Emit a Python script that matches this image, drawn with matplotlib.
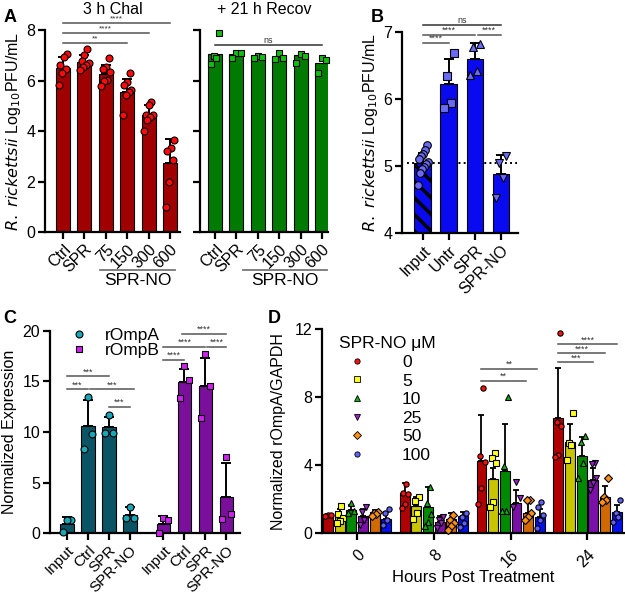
import numpy as np
import matplotlib.pyplot as plt
from matplotlib.lines import Line2D
import matplotlib.transforms as mtransforms

plt.rcParams['font.family'] = ['Liberation Sans', 'DejaVu Sans']
plt.rcParams['hatch.linewidth'] = 2.5
plt.rcParams['axes.linewidth'] = 1.6

# ---------------- data ----------------
# Panel A (3 h challenge / +21 h recovery)
a_labels = ['Ctrl', 'SPR', '75', '150', '300', '600']
chal_mean = [6.5, 6.75, 6.25, 5.55, 4.65, 2.72]
chal_sd = [0.45, 0.28, 0.38, 0.52, 0.38, 0.95]
chal_pts = [[7.07, 6.92, 6.62, 6.45, 6.3, 5.82],
            [7.24, 7.0, 6.78, 6.68, 6.62, 6.55, 6.42],
            [6.88, 6.55, 6.44, 6.35, 6.02, 6.0, 5.78],
            [6.28, 5.93, 5.82, 5.62, 5.55, 5.42, 4.63],
            [5.16, 5.03, 4.63, 4.62, 4.56, 4.43, 4.01],
            [3.66, 3.31, 3.2, 2.87, 1.98, 0.99]]
recov_mean = [7.05, 7.05, 6.97, 6.95, 7.02, 6.7]
recov_pts = [[7.87, 6.97, 6.9, 6.67],
             [7.1, 7.08, 6.9],
             [6.97, 6.93, 6.9],
             [7.08, 6.9, 6.85],
             [7.04, 6.97, 6.7],
             [6.9, 6.82, 6.3]]

# Panel B
b_labels = ['Input', 'Untr', 'SPR', 'SPR-NO']
b_mean = [5.05, 6.22, 6.59, 4.88]
b_sd = [0.15, 0.37, 0.24, 0.29]
b_pts = [[5.32, 5.24, 5.18, 5.15, 5.1, 5.06, 5.03, 4.98, 4.95, 4.9, 4.72],
         [6.69, 6.34, 5.94, 5.87],
         [6.82, 6.78, 6.41, 6.36],
         [5.15, 5.05, 4.82, 4.52]]
b_input_level = 5.05

# Panel C
c_labels = ['Input', 'Ctrl', 'SPR', 'SPR-NO']
ompa_mean = [0.95, 10.55, 10.45, 1.82]
ompa_sd = [0.7, 2.6, 1.05, 0.8]
ompa_pts = [[1.3, 1.3, 0.15], [13.5, 9.77, 8.3], [11.7, 9.87, 9.87], [2.57, 1.48, 1.48]]
ompb_mean = [0.93, 14.97, 14.54, 3.55]
ompb_sd = [0.75, 1.3, 2.8, 3.4]
ompb_pts = [[1.48, 1.32, 0.0], [16.5, 15.1, 13.4], [17.7, 14.5, 11.35], [7.5, 1.87, 1.38]]

# Panel D
d_hours = ['0', '8', '16', '24']
d_doses = ['0', '5', '10', '25', '50', '100']
d_mean = [[1.05, 0.98, 1.35, 1.0, 1.25, 0.84],
          [2.35, 1.6, 1.53, 0.69, 0.82, 1.02],
          [4.25, 3.18, 3.67, 1.8, 1.18, 0.98],
          [6.8, 5.39, 4.57, 3.14, 2.16, 1.25]]
d_sd = [[0.08, 0.45, 0.3, 0.45, 0.12, 0.4],
        [0.6, 0.56, 1.17, 0.33, 0.36, 0.25],
        [2.71, 0.64, 2.76, 0.75, 0.78, 0.43],
        [2.95, 1.04, 1.12, 0.68, 0.62, 0.42]]
d_pts = [[[1.08, 1.02, 1.05],
          [1.61, 1.14, 0.88, 0.73, 0.59],
          [1.8, 1.33, 1.22],
          [1.57, 1.27, 0.78, 0.49],
          [1.27, 1.22, 1.14, 1.02],
          [1.41, 1.22, 0.78, 0.49]],
         [[2.9, 2.35, 2.31, 1.71, 1.47],
          [2.12, 1.9, 1.22, 0.84],
          [2.75, 1.76, 1.14, 0.69, 0.43],
          [0.98, 0.78, 0.59, 0.29],
          [1.08, 0.78, 0.63, 0.43, 0.2],
          [1.22, 0.98, 0.63, 0.35]],
         [[8.57, 4.57, 4.18, 2.65, 1.73],
          [4.75, 4.45, 4.12, 1.86, 1.57],
          [8.04, 3.98, 1.33, 1.33],
          [3.04, 2.06, 1.57],
          [1.96, 1.96, 1.18, 0.98, 0.78],
          [1.82, 1.57, 1.08, 0.78, 0.29]],
         [[11.76, 6.57, 6.31, 4.61, 4.51],
          [7.1, 5.33, 5.2, 4.31],
          [5.75, 5.39, 4.12, 3.27],
          [4.12, 4.06, 3.24, 2.94, 2.55],
          [3.24, 2.16, 1.96, 1.86],
          [1.96, 1.18, 0.98, 0.69]]]
d_bar_colors = ['#b00000', '#c8c400', '#008a00', '#7a10a8', '#d06a00', '#0010ee']
d_pt_colors = ['#ff1010', '#ffff20', '#10b010', '#a020d0', '#ff9010', '#6060ff']
d_markers = ['o', 's', '^', 'v', 'D', 'o']

TICK_FS = 11.5
LAB_FS = 11.5


def spread(vals, width=0.4):
    n = len(vals)
    if n == 1:
        return np.zeros(1)
    order = np.argsort(vals)
    offs = np.zeros(n)
    base = np.linspace(-width / 2, width / 2, n)
    # alternate positions so points of similar height don't stack
    alt = np.concatenate([base[::2], base[1::2]])
    offs[order] = alt
    return offs


def bars(ax, xs, means, sds, pts, barc, ptc, marker='o', width=0.65, ms=5,
         spread_w=0.4, hatch=None, capsize=3.5, lw=1.4):
    for i, (x, m) in enumerate(zip(xs, means)):
        ax.bar(x, m, width=width, color=barc if isinstance(barc, str) else barc[i],
               edgecolor='black', linewidth=0.8, zorder=2,
               hatch=hatch[i] if hatch else None)
        if sds is not None:
            ax.errorbar(x, m, yerr=[[0], [sds[i]]], color='black', capsize=capsize,
                        capthick=lw, elinewidth=lw, zorder=3)
        p = np.array(pts[i])
        mk = marker if isinstance(marker, str) else marker[i]
        c = ptc if isinstance(ptc, str) else ptc[i]
        ax.plot(x + spread(p, spread_w), p, mk, ms=ms, mfc=c, mec='black', mew=0.8,
                zorder=4, clip_on=False, linestyle='none')


def sig(ax, x1, x2, y, txt, color='#555555', fs=6.5, lw=1.1):
    ax.plot([x1, x2], [y, y], color=color, lw=lw, clip_on=False, zorder=5)
    ax.text((x1 + x2) / 2, y, txt, ha='center', va='bottom', fontsize=fs,
            color='#333333', clip_on=False)


def style(ax):
    for s in ['top', 'right']:
        ax.spines[s].set_visible(False)
    ax.tick_params(axis='both', width=1.6, length=5, labelsize=TICK_FS, pad=2)
    ax.set_facecolor('none')


fig = plt.figure(figsize=(6.25, 5.94), dpi=100)

# ---------------- Panel A left ----------------
ax1 = fig.add_axes([0.072, 0.6094, 0.216, 0.340])
xa = np.arange(len(a_labels))
bars(ax1, xa, chal_mean, chal_sd, chal_pts, '#a00000', '#ff0a0a')
ax1.set_xlim(-0.84, 5.47)
ax1.set_ylim(0, 8)
ax1.set_yticks([0, 2, 4, 6, 8])
ax1.set_xticks(xa)
ax1.set_xticklabels(a_labels, rotation=45, ha='right', rotation_mode='anchor')
style(ax1)
ax1.set_ylabel(r'$\it{R.\ rickettsii}$ Log$_{10}$PFU/mL', fontsize=LAB_FS, labelpad=2)
ax1.set_title('3 h Chal', fontsize=11.5, pad=11.5)
sig(ax1, 0, 3, 7.5, '**', fs=6)
sig(ax1, 0, 4, 7.9, '****', fs=6)
sig(ax1, 0, 5, 8.29, '****', fs=6)
tr = mtransforms.blended_transform_factory(ax1.transData, ax1.transAxes)
ax1.plot([1.75, 5.25], [-0.19, -0.19], color='#777777', lw=1.3, transform=tr, clip_on=False)
ax1.text(3.5, -0.205, 'SPR-NO', transform=tr, ha='center', va='top', fontsize=12.5)

# ---------------- Panel A right ----------------
ax2 = fig.add_axes([0.32, 0.6094, 0.2048, 0.340])
bars(ax2, xa, recov_mean, None, recov_pts, '#007a00', '#10c010', marker='s', ms=5)
ax2.set_xlim(-0.7, 5.28)
ax2.set_ylim(0, 8)
ax2.set_yticks([0, 2, 4, 6, 8])
ax2.set_yticklabels([])
ax2.set_xticks(xa)
ax2.set_xticklabels(a_labels, rotation=45, ha='right', rotation_mode='anchor')
style(ax2)
ax2.set_title('+ 21 h Recov', fontsize=11.5, pad=11.5)
sig(ax2, 0, 5, 7.42, 'ns', color='#333333')
tr2 = mtransforms.blended_transform_factory(ax2.transData, ax2.transAxes)
ax2.plot([1.3, 5.25], [-0.19, -0.19], color='#777777', lw=1.3, transform=tr2, clip_on=False)
ax2.text(3.28, -0.205, 'SPR-NO', transform=tr2, ha='center', va='top', fontsize=12.5)

# ---------------- Panel B ----------------
ax3 = fig.add_axes([0.643, 0.6072, 0.1856, 0.3394])
xb = np.arange(len(b_labels))
bars(ax3, xb, b_mean, b_sd, b_pts, '#0a0af0', '#6a6af8',
     marker=['o', 's', '^', 'v'], ms=5.5, hatch=['\\\\', None, None, None])
ax3.plot([-0.6, 3.6], [b_input_level, b_input_level], ':', color='black', lw=1.4, zorder=1)
ax3.set_xlim(-0.81, 3.65)
ax3.set_ylim(4, 7)
ax3.set_yticks([4, 5, 6, 7])
ax3.set_xticks(xb)
ax3.set_xticklabels(b_labels, rotation=45, ha='right', rotation_mode='anchor')
style(ax3)
ax3.set_ylabel(r'$\it{R.\ rickettsii}$ Log$_{10}$PFU/mL', fontsize=LAB_FS, labelpad=2)
sig(ax3, 0, 1, 6.83, '****')
sig(ax3, 0, 2, 6.95, '****')
sig(ax3, 2.1, 3, 6.95, '****')
sig(ax3, 0, 3, 7.1, 'ns', color='#333333')

# ---------------- Panel C ----------------
ax4 = fig.add_axes([0.08, 0.1022, 0.304, 0.341])
xc1 = np.arange(4)
xc2 = np.arange(4) + 4.6
bars(ax4, xc1, ompa_mean, ompa_sd, ompa_pts, '#0b5466', '#1aa6b6', marker='o', ms=5)
bars(ax4, xc2, ompb_mean, ompb_sd, ompb_pts, '#7a0f9c', '#d020f0', marker='s', ms=5)
ax4.set_xlim(-0.8, 8.25)
ax4.set_ylim(0, 20)
ax4.set_yticks([0, 5, 10, 15, 20])
ax4.set_xticks(np.concatenate([xc1, xc2]))
ax4.set_xticklabels(c_labels + c_labels, rotation=45, ha='right', rotation_mode='anchor')
style(ax4)
ax4.tick_params(axis='x', labelsize=11)
ax4.set_ylabel('Normalized Expression', fontsize=LAB_FS, labelpad=4)
sig(ax4, 0, 1, 14.2, '***')
sig(ax4, 0, 2, 15.5, '***')
sig(ax4, 1.1, 3.2, 14.2, '***')
sig(ax4, 2, 3, 12.5, '***')
sig(ax4, xc2[0], xc2[1], 17.1, '****')
sig(ax4, xc2[0], xc2[2], 18.4, '****')
sig(ax4, xc2[2] + 0.1, xc2[3], 18.4, '****')
sig(ax4, xc2[1] - 0.1, xc2[3], 19.7, '****')
hc = [Line2D([], [], marker='o', ls='none', mfc='#1aa6b6', mec='black', mew=0.8, ms=5),
      Line2D([], [], marker='s', ls='none', mfc='#d020f0', mec='black', mew=0.8, ms=5)]
ax4.legend(hc, ['rOmpA', 'rOmpB'], loc='upper left', bbox_to_anchor=(0.07, 1.05),
           frameon=False, fontsize=12.5, handletextpad=1.0, labelspacing=0.0,
           borderaxespad=0, handlelength=1.0)

# ---------------- Panel D ----------------
ax5 = fig.add_axes([0.515, 0.1022, 0.485, 0.3434])
xg = np.arange(len(d_hours))
off = 0.152
for j in range(len(d_doses)):
    xs = xg + (j - 2.5) * off
    means = [d_mean[g][j] for g in range(len(d_hours))]
    sds = [d_sd[g][j] for g in range(len(d_hours))]
    pts = [d_pts[g][j] for g in range(len(d_hours))]
    bars(ax5, xs, means, sds, pts, d_bar_colors[j], d_pt_colors[j], marker=d_markers[j],
         width=0.13, ms=3.8, spread_w=0.08, capsize=2, lw=1.3)
ax5.set_xlim(-0.46, 3.49)
ax5.set_ylim(0, 12)
ax5.set_yticks([0, 4, 8, 12])
ax5.set_xticks(xg)
ax5.set_xticklabels(d_hours, rotation=45, ha='right', rotation_mode='anchor')
style(ax5)
ax5.tick_params(axis='x', pad=5)
ax5.set_ylabel('Normalized rOmpA/GAPDH', fontsize=LAB_FS, labelpad=6)
ax5.set_xlabel('Hours Post Treatment', fontsize=12, labelpad=0)
sig(ax5, 2 - 2.5 * off, 2 + 2.3 * off, 9.67, '**')
sig(ax5, 2 - 2.5 * off, 2 + 1.3 * off, 8.96, '**')
sig(ax5, 3 - 2.5 * off, 3 + 2.5 * off, 11.12, '****')
sig(ax5, 3 - 2.5 * off, 3 + 1.5 * off, 10.59, '****')
sig(ax5, 3 - 2.5 * off, 3 + 0.5 * off, 10.06, '***')
hd = [Line2D([], [], marker=m, ls='none', mfc=c, mec='black', mew=0.6, ms=3.8)
      for m, c in zip(d_markers, d_pt_colors)]
leg = ax5.legend(hd, d_doses, title='SPR-NO \u03bcM', loc='upper left',
                 bbox_to_anchor=(0.035, 1.0), frameon=False, fontsize=12.5,
                 title_fontsize=12.5, handletextpad=1.6, labelspacing=0.2,
                 borderaxespad=0)
leg._legend_box.align = 'left'

# panel letters
for lab, (x, y) in zip('ABCD', [(0.005, 0.985), (0.593, 0.985), (0.005, 0.478), (0.428, 0.478)]):
    fig.text(x, y, lab, fontsize=13, fontweight='bold', va='top', ha='left')

fig.savefig('out.png', dpi=100)
